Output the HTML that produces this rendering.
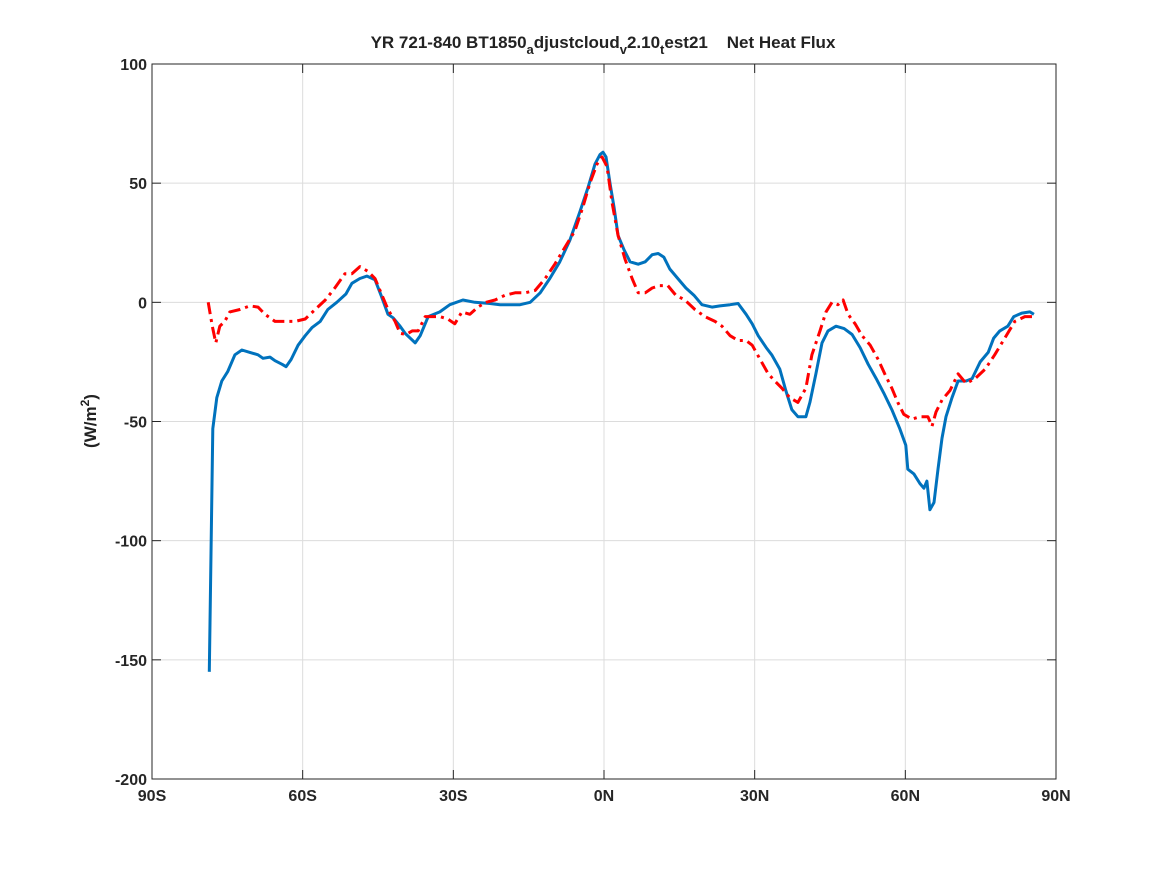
<!DOCTYPE html>
<html><head><meta charset="utf-8"><style>
body{margin:0;background:#fff;}
svg{display:block;font-family:"Liberation Sans",sans-serif;}
</style></head><body>
<svg id="chart" width="1167" height="875" viewBox="0 0 1167 875">
<rect x="0" y="0" width="1167" height="875" fill="#fff"/>
<g id="grid"></g>
<g id="axes"></g>
<g id="series"></g>
<text x="603" y="48" text-anchor="middle" font-size="17" font-weight="bold" fill="#222">YR 721-840 BT1850<tspan font-size="13" dy="6">a</tspan><tspan dy="-6">djustcloud</tspan><tspan font-size="13" dy="6">v</tspan><tspan dy="-6">2.10</tspan><tspan font-size="13" dy="6">t</tspan><tspan dy="-6" xml:space="preserve">est21    Net Heat Flux</tspan></text>
<text transform="translate(96,421) rotate(-90)" text-anchor="middle" font-size="17" font-weight="bold" fill="#222">(W/m<tspan font-size="12" dy="-7">2</tspan><tspan dy="7">)</tspan></text>
</svg>
<script>
const xTicks=[-90,-60,-30,0,30,60,90];
const xTickLabels=["90S","60S","30S","0N","30N","60N","90N"];
const yTicks=[100,50,0,-50,-100,-150,-200];
const yTickLabels=["100","50","0","-50","-100","-150","-200"];
const blueLat=[-78.6,-77.9,-77.1,-76.1,-74.9,-73.5,-72.1,-70.5,-68.9,-67.9,-66.5,-65.5,-64.1,-63.3,-62.3,-60.9,-59.5,-58.1,-56.5,-55.0,-53.2,-51.4,-50.2,-48.6,-47.2,-45.6,-44.4,-43.0,-42.0,-40.6,-39.6,-38.6,-37.6,-36.6,-35.0,-32.7,-30.7,-28.1,-25.7,-22.7,-20.7,-18.7,-16.7,-14.7,-12.7,-10.8,-8.8,-6.8,-4.8,-3.2,-1.8,-0.8,-0.2,0.4,1.2,2.0,2.8,4.0,5.2,6.8,8.2,9.6,10.8,11.9,13.1,14.7,16.3,17.9,19.5,21.5,23.1,25.1,26.7,28.3,29.5,30.7,32.3,33.4,35.0,36.2,37.4,38.6,40.2,41.0,42.2,43.4,44.6,46.2,47.8,49.4,51.0,52.6,54.2,55.7,57.3,58.9,60.1,60.5,61.7,62.9,63.7,64.3,64.9,65.7,66.5,67.3,68.1,69.3,70.5,72.1,73.3,74.9,76.5,77.6,78.8,80.4,81.6,83.2,84.8,85.6];
const blueVal=[-155,-53,-40,-33,-29,-22,-20,-21,-22,-23.5,-23,-24.5,-26,-27,-24,-18,-14,-10.5,-8,-3,0,3.5,8,10,11,9.5,3,-5,-6.5,-10,-13,-15,-17,-14,-6,-4,-1,1,0,-0.5,-1,-1,-1,0,4,10,17,26,38,48,58,62,63,61,50,40,28,22,17,16,17,20,20.5,19,14,10,6,3,-1,-2,-1.5,-1,-0.5,-5,-9,-14,-19,-22,-28,-37,-45,-48,-48,-42,-30,-17,-12,-10,-11,-13.5,-19,-26,-32,-38,-45,-53,-60,-70,-72,-76,-78,-75,-87,-84,-70,-57,-48,-40,-33,-33,-32,-25,-21,-15,-12,-10,-6,-4.5,-4,-5];
const redLat=[-78.8,-78.0,-77.3,-76.5,-75.5,-74.5,-72.5,-70.5,-68.9,-67.5,-65.5,-63.5,-61.5,-59.5,-57.5,-55.5,-53.6,-51.6,-50.2,-48.6,-47.0,-45.6,-44.2,-43.0,-41.6,-40.6,-39.4,-38.2,-37.0,-35.6,-34.2,-32.7,-31.1,-29.7,-28.3,-26.7,-25.1,-23.5,-21.7,-19.7,-17.7,-15.7,-13.7,-11.7,-9.8,-7.8,-5.8,-4.2,-2.8,-1.4,-0.4,0.6,1.6,2.8,4.2,5.6,6.8,8.2,9.6,11.1,12.7,14.3,16.1,18.1,20.1,22.1,23.5,25.1,26.7,28.3,29.5,31.1,32.7,34.0,35.4,37.0,38.6,40.2,41.4,43.0,44.2,45.4,46.6,47.6,48.6,50.0,51.4,53.0,54.6,55.9,57.3,58.5,59.7,61.3,62.9,64.5,65.3,66.1,67.3,68.9,70.5,72.1,73.9,75.9,77.8,79.8,81.8,83.8,85.6];
const redVal=[0,-10,-17,-10,-8,-4,-3,-1.5,-2,-5,-8,-8,-8,-7,-3,1,6,12,12,15,13,10,3,-3,-8,-13,-13.5,-12,-12,-6,-6,-6,-7,-9,-4,-5,-2,0,1,3,4,4,5,10,16,23,30,40,50,58,61,57,42,28,18,10,4,4,6,7,7,3,1,-3,-6,-8,-10,-14,-16,-16,-18,-24,-30,-33,-36,-40,-42,-36,-22,-12,-4,0,-1,1,-5,-9,-14,-18,-24,-30,-36,-42,-47,-49,-48,-48,-52,-46,-41,-37,-30,-34,-32,-28,-22,-15,-8,-6,-6];

const L=152,R=1056,T=64,B=779;
const xs=v=>L+(v+90)/180*(R-L);
const ys=v=>T+(100-v)/300*(B-T);
const NS="http://www.w3.org/2000/svg";
function mk(tag,attrs,parent){const e=document.createElementNS(NS,tag);for(const k in attrs)e.setAttribute(k,attrs[k]);parent.appendChild(e);return e;}
const grid=document.getElementById('grid'),axes=document.getElementById('axes'),series=document.getElementById('series');
xTicks.forEach((t,i)=>{
  const x=xs(t);
  const g=mk('line',{x1:x,x2:x,y1:T,y2:B,stroke:'#dcdcdc','stroke-width':1},grid);
  
  
  mk('line',{x1:x,x2:x,y1:B,y2:B-9,stroke:'#262626','stroke-width':1},axes);
  mk('line',{x1:x,x2:x,y1:T,y2:T+9,stroke:'#262626','stroke-width':1},axes);
  const tx=mk('text',{x:x,y:B+22,'text-anchor':'middle','font-size':16,'font-weight':'bold',fill:'#262626'},axes);
  tx.textContent=xTickLabels[i];
  
  
});
yTicks.forEach((t,i)=>{
  const y=ys(t);
  const g=mk('line',{x1:L,x2:R,y1:y,y2:y,stroke:'#dcdcdc','stroke-width':1},grid);
  
  
  mk('line',{x1:L,x2:L+9,y1:y,y2:y,stroke:'#262626','stroke-width':1},axes);
  mk('line',{x1:R,x2:R-9,y1:y,y2:y,stroke:'#262626','stroke-width':1},axes);
  const tx=mk('text',{x:L-5,y:y+6,'text-anchor':'end','font-size':16,'font-weight':'bold',fill:'#262626'},axes);
  tx.textContent=yTickLabels[i];
  
  
});
const box=mk('rect',{x:L,y:T,width:R-L,height:B-T,fill:'none',stroke:'#262626','stroke-width':1},axes);


function path(lat,val){return lat.map((a,i)=>(i?'L':'M')+xs(a).toFixed(1)+','+ys(val[i]).toFixed(1)).join('');}
const bl=mk('path',{d:path(blueLat,blueVal),fill:'none',stroke:'#0072bd','stroke-width':3,'stroke-linejoin':'round'},series);


const rl=mk('path',{d:path(redLat,redVal),fill:'none',stroke:'#ff0000','stroke-width':3,'stroke-dasharray':'12,5,3,5','stroke-linejoin':'round'},series);


</script>
</body></html>
